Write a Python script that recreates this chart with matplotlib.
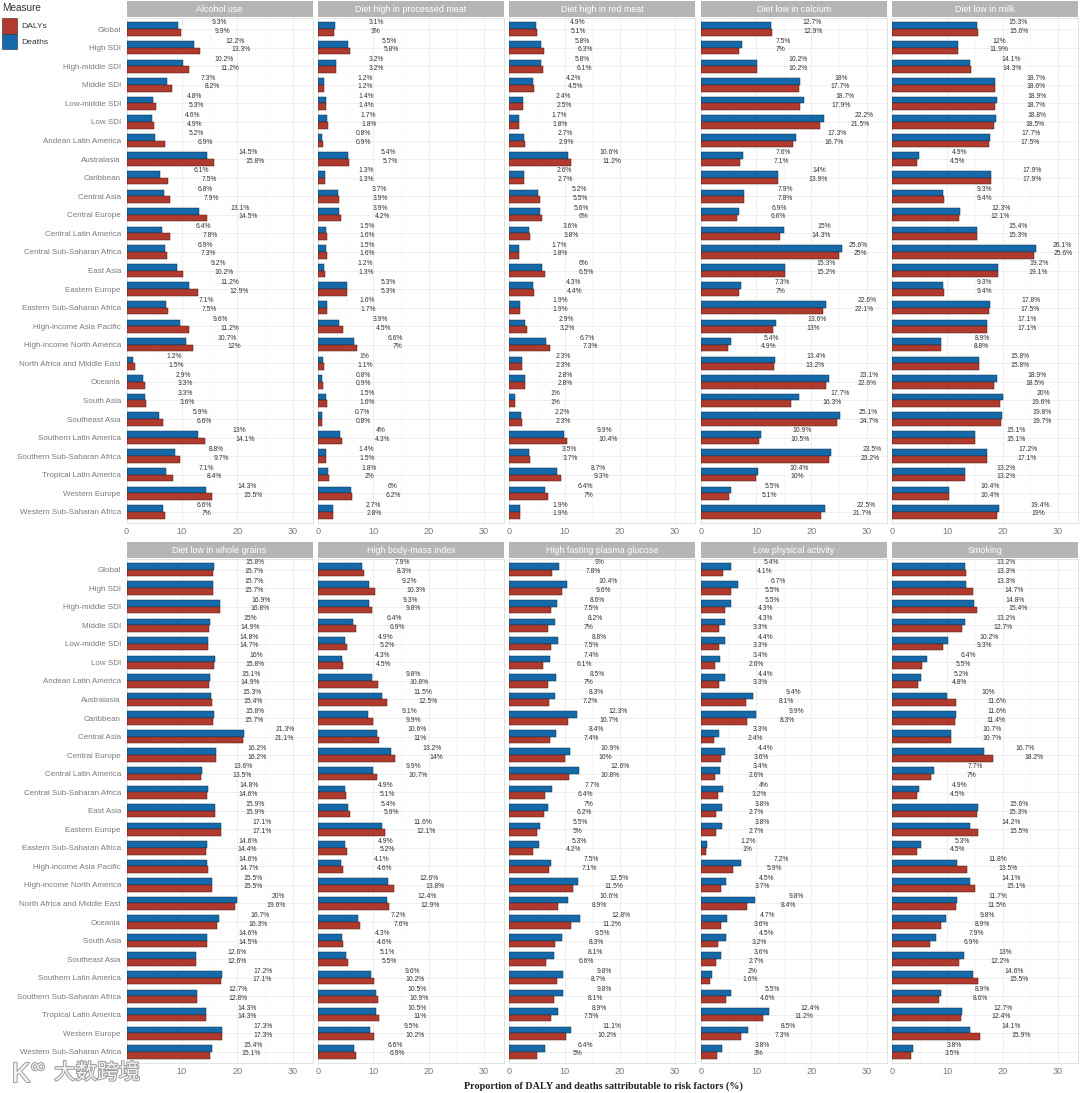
import matplotlib
matplotlib.use('Agg')
import matplotlib.pyplot as plt
from matplotlib.patches import Rectangle
import matplotlib.patheffects as pe

plt.rcParams['font.family'] = ['Liberation Sans', 'DejaVu Sans']

W, H = 1080, 1093

regions = ['Global', 'High SDI', 'High-middle SDI', 'Middle SDI', 'Low-middle SDI', 'Low SDI',
           'Andean Latin America', 'Australasia', 'Caribbean', 'Central Asia', 'Central Europe',
           'Central Latin America', 'Central Sub-Saharan Africa', 'East Asia', 'Eastern Europe',
           'Eastern Sub-Saharan Africa', 'High-income Asia Pacific', 'High-income North America',
           'North Africa and Middle East', 'Oceania', 'South Asia', 'Southeast Asia',
           'Southern Latin America', 'Southern Sub-Saharan Africa', 'Tropical Latin America',
           'Western Europe', 'Western Sub-Saharan Africa']

alcohol_deaths = [9.3, 12.2, 10.2, 7.3, 4.8, 4.6, 5.2, 14.5, 6.1, 6.8, 13.1, 6.4, 6.9, 9.2, 11.2, 7.1, 9.6, 10.7, 1.2, 2.9, 3.3, 5.9, 13, 8.8, 7.1, 14.3, 6.6]
alcohol_dalys = [9.9, 13.3, 11.2, 8.2, 5.3, 4.9, 6.9, 15.8, 7.5, 7.9, 14.5, 7.8, 7.3, 10.2, 12.9, 7.5, 11.2, 12, 1.5, 3.3, 3.6, 6.6, 14.1, 9.7, 8.4, 15.5, 7]
processed_deaths = [3.1, 5.5, 3.2, 1.2, 1.4, 1.7, 0.8, 5.4, 1.3, 3.7, 3.9, 1.5, 1.5, 1.2, 5.3, 1.6, 3.9, 6.6, 1, 0.8, 1.5, 0.7, 4, 1.4, 1.8, 6, 2.7]
processed_dalys = [3, 5.8, 3.2, 1.2, 1.4, 1.8, 0.9, 5.7, 1.3, 3.9, 4.2, 1.6, 1.6, 1.3, 5.3, 1.7, 4.5, 7, 1.1, 0.9, 1.6, 0.8, 4.3, 1.5, 2, 6.2, 2.8]
redmeat_deaths = [4.9, 5.8, 5.8, 4.2, 2.4, 1.7, 2.7, 10.6, 2.6, 5.2, 5.6, 3.6, 1.7, 6, 4.3, 1.9, 2.9, 6.7, 2.3, 2.8, 1, 2.2, 9.9, 3.5, 8.7, 6.4, 1.9]
redmeat_dalys = [5.1, 6.3, 6.1, 4.5, 2.5, 1.8, 2.9, 11.2, 2.7, 5.5, 6, 3.8, 1.8, 6.5, 4.4, 1.9, 3.2, 7.3, 2.3, 2.8, 1, 2.3, 10.4, 3.7, 9.3, 7, 1.9]
calcium_deaths = [12.7, 7.5, 10.2, 18, 18.7, 22.2, 17.3, 7.6, 14, 7.9, 6.9, 15, 25.6, 15.3, 7.3, 22.6, 13.6, 5.4, 13.4, 23.1, 17.7, 25.1, 10.9, 23.5, 10.4, 5.5, 22.5]
calcium_dalys = [12.9, 7, 10.2, 17.7, 17.9, 21.5, 16.7, 7.1, 13.9, 7.8, 6.6, 14.3, 25, 15.2, 7, 22.1, 13, 4.9, 13.2, 22.6, 16.3, 24.7, 10.5, 23.2, 10, 5.1, 21.7]
milk_deaths = [15.3, 12, 14.1, 18.7, 18.9, 18.8, 17.7, 4.9, 17.9, 9.3, 12.3, 15.4, 26.1, 19.2, 9.3, 17.8, 17.1, 8.9, 15.8, 18.9, 20, 19.8, 15.1, 17.2, 13.2, 10.4, 19.4]
milk_dalys = [15.6, 11.9, 14.3, 18.6, 18.7, 18.5, 17.5, 4.5, 17.9, 9.4, 12.1, 15.3, 25.6, 19.1, 9.4, 17.5, 17.1, 8.8, 15.8, 18.5, 19.6, 19.7, 15.1, 17.1, 13.2, 10.4, 19]
grains_deaths = [15.8, 15.7, 16.9, 15, 14.8, 16, 15.1, 15.3, 15.8, 21.3, 16.2, 13.6, 14.8, 15.9, 17.1, 14.6, 14.6, 15.5, 20, 16.7, 14.6, 12.6, 17.2, 12.7, 14.3, 17.3, 15.4]
grains_dalys = [15.7, 15.7, 16.8, 14.9, 14.7, 15.8, 14.9, 15.4, 15.7, 21.1, 16.2, 13.5, 14.6, 15.9, 17.1, 14.4, 14.7, 15.5, 19.6, 16.3, 14.5, 12.6, 17.1, 12.8, 14.3, 17.3, 15.1]
bmi_deaths = [7.9, 9.2, 9.3, 6.4, 4.9, 4.3, 9.8, 11.5, 9.1, 10.6, 13.2, 9.9, 4.9, 5.4, 11.6, 4.9, 4.1, 12.6, 12.4, 7.2, 4.3, 5.1, 9.6, 10.5, 10.5, 9.5, 6.6]
bmi_dalys = [8.3, 10.3, 9.8, 6.9, 5.2, 4.5, 10.8, 12.5, 9.9, 11, 14, 10.7, 5.1, 5.9, 12.1, 5.2, 4.6, 13.8, 12.9, 7.6, 4.6, 5.5, 10.2, 10.9, 11, 10.2, 6.9]
glucose_deaths = [9, 10.4, 8.6, 8.2, 8.8, 7.4, 8.5, 8.3, 12.3, 8.4, 10.9, 12.6, 7.7, 7, 5.5, 5.3, 7.5, 12.5, 10.6, 12.8, 9.5, 8.1, 9.8, 9.8, 8.9, 11.1, 6.4]
glucose_dalys = [7.8, 9.6, 7.5, 7, 7.5, 6.1, 7, 7.2, 10.7, 7.4, 10, 10.8, 6.4, 6.2, 5, 4.2, 7.1, 11.5, 8.9, 11.2, 8.3, 6.6, 8.7, 8.1, 7.5, 10.2, 5]
activity_deaths = [5.4, 6.7, 5.5, 4.3, 4.4, 3.4, 4.4, 9.4, 9.9, 3.3, 4.4, 3.4, 4, 3.8, 3.8, 1.2, 7.2, 4.5, 9.8, 4.7, 4.5, 3.6, 2, 5.5, 12.4, 8.5, 3.8]
activity_dalys = [4.1, 5.5, 4.3, 3.3, 3.3, 2.6, 3.3, 8.1, 8.3, 2.4, 3.6, 2.6, 3.2, 2.7, 2.7, 1, 5.9, 3.7, 8.4, 3.6, 3.2, 2.7, 1.6, 4.6, 11.2, 7.3, 3]
smoking_deaths = [13.2, 13.3, 14.8, 13.2, 10.2, 6.4, 5.2, 10, 11.6, 10.7, 16.7, 7.7, 4.9, 15.6, 14.2, 5.3, 11.8, 14.1, 11.7, 9.8, 7.9, 13, 14.6, 8.9, 12.7, 14.1, 3.8]
smoking_dalys = [13.3, 14.7, 15.4, 12.7, 9.3, 5.5, 4.8, 11.6, 11.4, 10.7, 18.2, 7, 4.5, 15.3, 15.5, 4.5, 13.5, 15.1, 11.5, 8.9, 6.9, 12.2, 15.5, 8.6, 12.4, 15.9, 3.5]

risk_titles = ['Alcohol use', 'Diet high in processed meat', 'Diet high in red meat', 'Diet low in calcium',
               'Diet low in milk', 'Diet low in whole grains', 'High body-mass index',
               'High fasting plasma glucose', 'Low physical activity', 'Smoking']
deaths_by_risk = [alcohol_deaths, processed_deaths, redmeat_deaths, calcium_deaths, milk_deaths,
                  grains_deaths, bmi_deaths, glucose_deaths, activity_deaths, smoking_deaths]
dalys_by_risk = [alcohol_dalys, processed_dalys, redmeat_dalys, calcium_dalys, milk_dalys,
                 grains_dalys, bmi_dalys, glucose_dalys, activity_dalys, smoking_dalys]

RED = '#b03a2e'
BLUE = '#1669a8'
GRID = '#ececec'
TICK = '#7a7a7a'
BAR_H = 0.36
LABEL_PAD = 7.4  # labels sit a fixed distance right of the bar end
# the long bars have their labels pulled in so they stay inside the panel
# (panel, region): (deaths pad, dalys pad)
close_pads = {(3, 12): (2.8, 3.9), (3, 21): (5.2, 5.8), (4, 12): (4.7, 5.3)}


def px_axes(x0, y0, x1, y1):
    # pixel box measured from the top left
    return fig.add_axes([x0 / W, 1 - y1 / H, (x1 - x0) / W, (y1 - y0) / H])


fig = plt.figure(figsize=(W / 100, H / 100), dpi=100)

col_x = [(126.5, 312.5), (317.8, 504), (509.3, 695), (700.7, 886.7), (891.8, 1078)]
row_y = [(1, 18, 523), (542, 558.5, 1063)]

#%% Panels
for i, title in enumerate(risk_titles):
    r, c = divmod(i, 5)
    x0, x1 = col_x[c]
    y_strip, y0, y1 = row_y[r]

    strip = px_axes(x0, y_strip, x1, y0 - 1)
    strip.set_facecolor('#b5b5b5')
    strip.set_xticks([])
    strip.set_yticks([])
    for s in strip.spines.values():
        s.set_visible(False)
    strip.text(0.5, 0.47, title, color='white', fontsize=6.4, ha='center', va='center',
               transform=strip.transAxes)

    ax = px_axes(x0, y0, x1, y1)
    ypos = list(range(len(regions)))
    ax.barh([y - BAR_H / 2 for y in ypos], deaths_by_risk[i], height=BAR_H, color=BLUE,
            edgecolor='#10324f', linewidth=0.35, zorder=3)
    ax.barh([y + BAR_H / 2 for y in ypos], dalys_by_risk[i], height=BAR_H, color=RED,
            edgecolor='#4a1a14', linewidth=0.35, zorder=3)
    for y, d, v in zip(ypos, deaths_by_risk[i], dalys_by_risk[i]):
        pad_d, pad_v = close_pads.get((i, y), (LABEL_PAD, LABEL_PAD))
        ax.text(d + pad_d, y - 0.36, f'{d:g}%', fontsize=4.9, color='#333333',
                ha='center', va='center', zorder=4)
        ax.text(v + pad_v, y + 0.11, f'{v:g}%', fontsize=4.9, color='#333333',
                ha='center', va='center', zorder=4)

    ax.set_xlim(0, 33.6)
    ax.set_ylim(26.6, -0.6)
    ax.set_xticks([0, 10, 20, 30])
    ax.set_xticks([5, 15, 25], minor=True)
    ax.set_yticks(ypos)
    ax.grid(True, which='major', color=GRID, linewidth=0.6, zorder=0)
    ax.grid(True, which='minor', axis='x', color='#f3f3f3', linewidth=0.4, zorder=0)
    ax.tick_params(which='both', length=0)
    ax.tick_params(axis='x', labelsize=6.6, labelcolor=TICK, pad=3)
    if c == 0:
        ax.set_yticklabels(regions, fontsize=5.75, color=TICK)
        ax.tick_params(axis='y', pad=4)
    else:
        ax.tick_params(axis='y', labelleft=False)
    for name, s in ax.spines.items():
        s.set_color('#e2e2e2')
        s.set_linewidth(0.7)

#%% Legend
fig.text(2 / W, 1 - 8 / H, 'Measure', fontsize=7.2, color='#333333', va='center')
fig.add_artist(Rectangle((2 / W, 1 - 34 / H), 15 / W, 16 / H, transform=fig.transFigure,
                         facecolor=RED, edgecolor='#4a1a14', linewidth=0.4))
fig.add_artist(Rectangle((2 / W, 1 - 49 / H), 15 / W, 15 / H, transform=fig.transFigure,
                         facecolor=BLUE, edgecolor='#10324f', linewidth=0.4))
fig.text(21 / W, 1 - 27 / H, 'DALYs', fontsize=6.1, color='#333333', va='center')
fig.text(21 / W, 1 - 43 / H, 'Deaths', fontsize=6.1, color='#333333', va='center')

#%% Axis title and watermark
fig.text(603.5 / W, 1 - 1086 / H, 'Proportion of DALY and deaths sattributable to risk factors (%)',
         family='Liberation Serif', fontweight='bold', fontsize=7.3, color='#222222',
         ha='center', va='center')

halo = [pe.withStroke(linewidth=1.4, foreground='#9a9a9a')]
fig.text(97 / W, 1 - 1073 / H, '大数跨境', family=['Noto Sans CJK SC', 'DejaVu Sans'], fontsize=15.5,
         color='#f4f4f4', ha='center', va='center', path_effects=halo, zorder=10)
fig.text(21 / W, 1 - 1075 / H, 'K', fontsize=20, color='#f4f4f4', ha='center', va='center',
         path_effects=halo, zorder=10)
fig.text(38 / W, 1 - 1067 / H, '∞', family='DejaVu Sans', fontsize=14, color='#f4f4f4', ha='center',
         va='center', path_effects=halo, zorder=10)

fig.savefig('out.png', dpi=100)
